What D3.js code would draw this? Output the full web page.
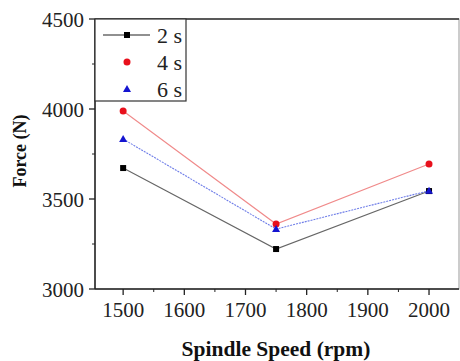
<!DOCTYPE html>
<html><head><meta charset="utf-8">
<script src="https://cdn.jsdelivr.net/npm/d3@7/dist/d3.min.js"></script>
</head><body style="margin:0"><svg id="c" width="460" height="361"></svg>
<script>
const speeds = [1500, 1750, 2000];
const seriesNames = ["2 s", "4 s", "6 s"];
const force2s = [3672, 3222, 3544];
const force4s = [3989, 3361, 3694];
const force6s = [3833, 3333, 3546];
const xTicks = [1500, 1600, 1700, 1800, 1900, 2000];
const yTicks = [3000, 3500, 4000, 4500];
const xMinorTicks = [1550, 1650, 1750, 1850, 1950];
const yMinorTicks = [3250, 3750, 4250];

const svg = d3.select("#c");
const L = 95, R = 459, T = 19, B = 289;
const x = d3.scaleLinear().domain([1454, 2049]).range([L, R]);
const y = d3.scaleLinear().domain([3000, 4500]).range([B, T]);

const series = [
  {name: seriesNames[0], vals: force2s, color: "#000", line: "#666", shape: "square", dash: null},
  {name: seriesNames[1], vals: force4s, color: "#e8101c", line: "#f08a8a", shape: "circle", dash: null},
  {name: seriesNames[2], vals: force6s, color: "#1414d0", line: "#6f7ee8", shape: "triangle", dash: "2,1"}
];

// frame
svg.append("rect").attr("x", L).attr("y", T).attr("width", R - L).attr("height", B - T)
  .attr("fill", "none").attr("stroke", "#999").attr("stroke-width", 1);
svg.append("line").attr("x1", L).attr("x2", R).attr("y1", T).attr("y2", T).attr("stroke", "#333").attr("stroke-width", 1.5);
svg.append("line").attr("x1", L).attr("x2", R).attr("y1", B).attr("y2", B).attr("stroke", "#222").attr("stroke-width", 1.5);
svg.append("line").attr("x1", L).attr("x2", L).attr("y1", T).attr("y2", B).attr("stroke", "#222").attr("stroke-width", 1.5);

// ticks
svg.selectAll(".xt").data(xTicks).enter().append("line")
  .attr("x1", d => x(d)).attr("x2", d => x(d)).attr("y1", B).attr("y2", B + 6).attr("stroke", "#222").attr("stroke-width", 1.3);
svg.selectAll(".xm").data(xMinorTicks).enter().append("line")
  .attr("x1", d => x(d)).attr("x2", d => x(d)).attr("y1", B).attr("y2", B + 3).attr("stroke", "#222");
svg.selectAll(".yt").data(yTicks).enter().append("line")
  .attr("x1", L - 6).attr("x2", L).attr("y1", d => y(d)).attr("y2", d => y(d)).attr("stroke", "#222").attr("stroke-width", 1.3);
svg.selectAll(".ym").data(yMinorTicks).enter().append("line")
  .attr("x1", L - 3).attr("x2", L).attr("y1", d => y(d)).attr("y2", d => y(d)).attr("stroke", "#222");

svg.selectAll(".xl").data(xTicks).enter().append("text")
  .attr("x", d => x(d)).attr("y", B + 28).attr("text-anchor", "middle")
  .attr("font-family", "Liberation Serif").attr("font-size", 21).attr("fill", "#222").text(d => d);
svg.selectAll(".yl").data(yTicks).enter().append("text")
  .attr("x", L - 11).attr("y", d => y(d) + 7.5).attr("text-anchor", "end")
  .attr("font-family", "Liberation Serif").attr("font-size", 21).attr("fill", "#222").text(d => d);

// axis titles
svg.append("text").attr("x", 276).attr("y", 356).attr("text-anchor", "middle")
  .attr("font-family", "Liberation Serif").attr("font-size", 21.5).attr("font-weight", "bold").attr("fill", "#111").text("Spindle Speed (rpm)");
svg.append("text").attr("transform", "translate(26,151) rotate(-90)").attr("text-anchor", "middle")
  .attr("font-family", "Liberation Serif").attr("font-size", 18).attr("font-weight", "bold").attr("fill", "#111").text("Force (N)");

function marker(g, shape, cx, cy, color) {
  if (shape === "square") g.append("rect").attr("x", cx - 3).attr("y", cy - 3).attr("width", 6).attr("height", 6).attr("fill", color);
  else if (shape === "circle") g.append("circle").attr("cx", cx).attr("cy", cy).attr("r", 3.5).attr("fill", color);
  else g.append("path").attr("d", `M${cx},${cy - 4}L${cx + 4},${cy + 3}L${cx - 4},${cy + 3}Z`).attr("fill", color);
}

const line = d3.line().x((d, i) => x(speeds[i])).y(d => y(d));
series.forEach(s => {
  svg.append("path").datum(s.vals).attr("d", line).attr("fill", "none")
    .attr("stroke", s.line).attr("stroke-width", 1.1).attr("stroke-dasharray", s.dash);
});
series.forEach(s => {
  const g = svg.append("g");
  s.vals.forEach((v, i) => marker(g, s.shape, x(speeds[i]), y(v), s.color));
});

// legend
const lg = svg.append("g");
lg.append("rect").attr("x", L).attr("y", T).attr("width", 91).attr("height", 82)
  .attr("fill", "#fff").attr("stroke", "#333").attr("stroke-width", 1.2);
series.forEach((s, i) => {
  const cy = 35 + i * 27;
  if (i === 0) lg.append("line").attr("x1", 103).attr("x2", 150).attr("y1", cy).attr("y2", cy).attr("stroke", "#222").attr("stroke-width", 1.2);
  marker(lg, s.shape, 127, cy, s.color);
  lg.append("text").attr("x", 157).attr("y", cy + 8).attr("font-family", "Liberation Serif")
    .attr("font-size", 22).attr("fill", "#222").text(s.name);
});
</script></body></html>
